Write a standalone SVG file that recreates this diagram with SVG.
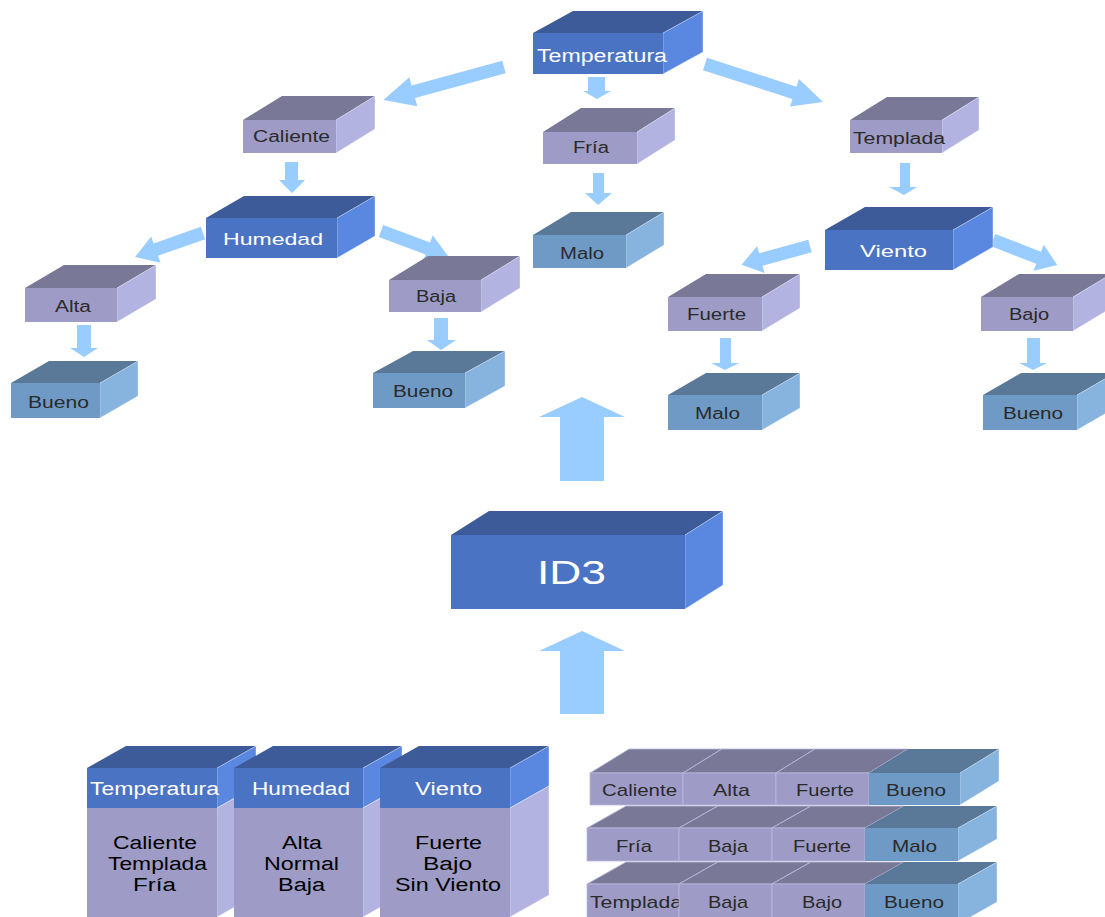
<svg xmlns="http://www.w3.org/2000/svg" width="1105" height="917" viewBox="0 0 1105 917">
  <style>
    text { font-family: "Liberation Sans", Arial, sans-serif; text-anchor: middle; }
    .df { fill: #4b73c3; } .dt { fill: #3d5b98; } .ds { fill: #5a88e1; }
    .lf { fill: #9e9cc6; } .lt { fill: #7a7897; } .ls { fill: #b3b3e1; }
    .sf { fill: #6f9ac6; } .st { fill: #5a7898; } .ss { fill: #87b3df; }
    .edge { stroke: #ffffff; stroke-opacity: 0.45; stroke-width: 0.8; }
    .cell { stroke: #b9b9dc; stroke-width: 0.8; }
    .w { fill: #ffffff; }
    .k { fill: #2a2a2a; }
    .b { fill: #000000; }
    .arrow { fill: #99ccff; }
  </style>

  <rect width="1105" height="917" fill="#ffffff"/>

  <!-- connectors -->
  <g id="connectors" class="arrow">
    <polygon transform="translate(504,67) rotate(164.7)" points="0,-6.5 94,-6.5 94,-15 125,0 94,15 94,6.5 0,6.5"/>
    <polygon transform="translate(705,64) rotate(17.85)" points="0,-6.5 94,-6.5 94,-14.5 124,0 94,14.5 94,6.5 0,6.5"/>
    <polygon points="588,77 605,77 605,91 611,91 597,99 583,91 588,91"/>
    <polygon points="285,162 298,162 298,180 305,180 292,193 279,180 285,180"/>
    <polygon transform="translate(203,233) rotate(160.56)" points="0,-6.5 50,-6.5 50,-14 72,0 50,14 50,6.5 0,6.5"/>
    <polygon transform="translate(381,231) rotate(20.46)" points="0,-6.5 50,-6.5 50,-14 71.5,0 50,14 50,6.5 0,6.5"/>
    <polygon points="77,325 91,325 91,348 98,348 84,357 70,348 77,348"/>
    <polygon points="434,318 448,318 448,340 456,340 441,350 427,340 434,340"/>
    <polygon points="593,173 604,173 604,193 612,193 598,205 585,193 593,193"/>
    <polygon points="900,163 910,163 910,187 917,187 904,195 889,187 900,187"/>
    <polygon transform="translate(810,246) rotate(164.6)" points="0,-6.5 51,-6.5 51,-14 71,0 51,14 51,6.5 0,6.5"/>
    <polygon transform="translate(993,240) rotate(21.3)" points="0,-6.5 49,-6.5 49,-14 69,0 49,14 49,6.5 0,6.5"/>
    <polygon points="720,338 731,338 731,363 739,363 725,370 711,363 720,363"/>
    <polygon points="1027,338 1040,338 1040,363 1047,363 1033,370 1019,363 1027,363"/>
    <polygon points="560,481 604,481 604,417 625,417 582,397 539,417 560,417"/>
    <polygon points="560,714 604,714 604,651 625,651 582,631 539,651 560,651"/>
  </g>

  <!-- decision tree -->
  <g id="n-temperatura">
    <path class="dt" d="M533 33 l40 -22 h130 l-40 22z"/>
    <path class="ds edge" d="M663 33 l40 -22 v41 l-40 22z"/>
    <rect class="df" x="533" y="33" width="130" height="41"/>
    <text class="w" x="602" y="62" font-size="18" textLength="130" lengthAdjust="spacingAndGlyphs">Temperatura</text>
  </g>

  <g id="n-caliente">
    <path class="lt" d="M243 120 l39 -24 h93 l-39 24z"/>
    <path class="ls edge" d="M336 120 l39 -24 v33 l-39 24z"/>
    <rect class="lf" x="243" y="120" width="93" height="33"/>
    <text class="k" x="291.5" y="142" font-size="16" textLength="77" lengthAdjust="spacingAndGlyphs">Caliente</text>
  </g>

  <g id="n-fria">
    <path class="lt" d="M543 132 l38 -24 h94 l-38 24z"/>
    <path class="ls edge" d="M637 132 l38 -24 v32 l-38 24z"/>
    <rect class="lf" x="543" y="132" width="94" height="32"/>
    <text class="k" x="591" y="153" font-size="16" textLength="36" lengthAdjust="spacingAndGlyphs">Fría</text>
  </g>

  <g id="n-templada">
    <path class="lt" d="M850 120 l37 -23 h92 l-37 23z"/>
    <path class="ls edge" d="M942 120 l37 -23 v33 l-37 23z"/>
    <rect class="lf" x="850" y="120" width="92" height="33"/>
    <text class="k" x="899" y="144" font-size="16" textLength="92" lengthAdjust="spacingAndGlyphs">Templada</text>
  </g>

  <g id="n-humedad">
    <path class="dt" d="M206 218 l38 -22 h131 l-38 22z"/>
    <path class="ds edge" d="M337 218 l38 -22 v40 l-38 22z"/>
    <rect class="df" x="206" y="218" width="131" height="40"/>
    <text class="w" x="273" y="245" font-size="17" textLength="100" lengthAdjust="spacingAndGlyphs">Humedad</text>
  </g>

  <g id="n-malo-fria">
    <path class="st" d="M533 235 l38 -23 h93 l-38 23z"/>
    <path class="ss edge" d="M626 235 l38 -23 v33 l-38 23z"/>
    <rect class="sf" x="533" y="235" width="93" height="33"/>
    <text class="k" x="582" y="259" font-size="16" textLength="44" lengthAdjust="spacingAndGlyphs">Malo</text>
  </g>

  <g id="n-viento">
    <path class="dt" d="M825 230 l40 -23 h128 l-40 23z"/>
    <path class="ds edge" d="M953 230 l40 -23 v40 l-40 23z"/>
    <rect class="df" x="825" y="230" width="128" height="40"/>
    <text class="w" x="893.5" y="257" font-size="17" textLength="67" lengthAdjust="spacingAndGlyphs">Viento</text>
  </g>

  <g id="n-alta">
    <path class="lt" d="M25 288 l39 -23 h92 l-39 23z"/>
    <path class="ls edge" d="M117 288 l39 -23 v34 l-39 23z"/>
    <rect class="lf" x="25" y="288" width="92" height="34"/>
    <text class="k" x="73" y="312" font-size="16" textLength="36" lengthAdjust="spacingAndGlyphs">Alta</text>
  </g>

  <g id="n-baja">
    <path class="lt" d="M389 280 l39 -24 h92 l-39 24z"/>
    <path class="ls edge" d="M481 280 l39 -24 v32 l-39 24z"/>
    <rect class="lf" x="389" y="280" width="92" height="32"/>
    <text class="k" x="436" y="302" font-size="16" textLength="40" lengthAdjust="spacingAndGlyphs">Baja</text>
  </g>

  <g id="n-fuerte">
    <path class="lt" d="M668 297 l38 -23 h94 l-38 23z"/>
    <path class="ls edge" d="M762 297 l38 -23 v34 l-38 23z"/>
    <rect class="lf" x="668" y="297" width="94" height="34"/>
    <text class="k" x="716.5" y="320" font-size="16" textLength="59" lengthAdjust="spacingAndGlyphs">Fuerte</text>
  </g>

  <g id="n-bajo">
    <path class="lt" d="M981 297 l38 -23 h92 l-38 23z"/>
    <path class="ls edge" d="M1073 297 l38 -23 v34 l-38 23z"/>
    <rect class="lf" x="981" y="297" width="92" height="34"/>
    <text class="k" x="1029" y="320" font-size="16" textLength="40" lengthAdjust="spacingAndGlyphs">Bajo</text>
  </g>

  <g id="n-bueno-alta">
    <path class="st" d="M11 383 l38 -22 h89 l-38 22z"/>
    <path class="ss edge" d="M100 383 l38 -22 v35 l-38 22z"/>
    <rect class="sf" x="11" y="383" width="89" height="35"/>
    <text class="k" x="58.5" y="408" font-size="16" textLength="61" lengthAdjust="spacingAndGlyphs">Bueno</text>
  </g>

  <g id="n-bueno-baja">
    <path class="st" d="M373 373 l40 -22 h92 l-40 22z"/>
    <path class="ss edge" d="M465 373 l40 -22 v35 l-40 22z"/>
    <rect class="sf" x="373" y="373" width="92" height="35"/>
    <text class="k" x="423" y="397" font-size="16" textLength="60" lengthAdjust="spacingAndGlyphs">Bueno</text>
  </g>

  <g id="n-malo-fuerte">
    <path class="st" d="M668 395 l38 -22 h94 l-38 22z"/>
    <path class="ss edge" d="M762 395 l38 -22 v35 l-38 22z"/>
    <rect class="sf" x="668" y="395" width="94" height="35"/>
    <text class="k" x="717.5" y="419" font-size="16" textLength="45" lengthAdjust="spacingAndGlyphs">Malo</text>
  </g>

  <g id="n-bueno-bajo">
    <path class="st" d="M983 395 l38 -22 h94 l-38 22z"/>
    <path class="ss edge" d="M1077 395 l38 -22 v35 l-38 22z"/>
    <rect class="sf" x="983" y="395" width="94" height="35"/>
    <text class="k" x="1033" y="419" font-size="16" textLength="60" lengthAdjust="spacingAndGlyphs">Bueno</text>
  </g>

  <!-- algorithm block -->
  <g id="n-id3">
    <path class="dt" d="M451 535 l38 -24 h234 l-38 24z"/>
    <path class="ds edge" d="M685 535 l38 -24 v74 l-38 24z"/>
    <rect class="df" x="451" y="535" width="234" height="74"/>
    <text class="w" x="571.5" y="584" font-size="34" textLength="69" lengthAdjust="spacingAndGlyphs">ID3</text>
  </g>

  <!-- attribute columns -->
  <g id="col-temperatura">
    <path class="dt" d="M87 768 l39 -22 h130 l-39 22z"/>
    <path class="ds edge" d="M217 768 l39 -22 v40 l-39 22z"/>
    <path class="ls edge" d="M217 808 l39 -22 v109 l-39 22z"/>
    <rect class="df" x="87" y="768" width="130" height="40"/>
    <rect class="lf" x="87" y="808" width="130" height="109"/>
    <text class="w" x="154.5" y="795" font-size="18" textLength="129" lengthAdjust="spacingAndGlyphs">Temperatura</text>
    <text class="b" x="155" y="849" font-size="18" textLength="84" lengthAdjust="spacingAndGlyphs">Caliente</text>
    <text class="b" x="157.5" y="870" font-size="18" textLength="99" lengthAdjust="spacingAndGlyphs">Templada</text>
    <text class="b" x="154.5" y="891" font-size="18" textLength="43" lengthAdjust="spacingAndGlyphs">Fría</text>
  </g>

  <g id="col-humedad">
    <path class="dt" d="M234 768 l39 -22 h129 l-39 22z"/>
    <path class="ds edge" d="M363 768 l39 -22 v40 l-39 22z"/>
    <path class="ls edge" d="M363 808 l39 -22 v109 l-39 22z"/>
    <rect class="df" x="234" y="768" width="129" height="40"/>
    <rect class="lf" x="234" y="808" width="129" height="109"/>
    <text class="w" x="301" y="795" font-size="18" textLength="98" lengthAdjust="spacingAndGlyphs">Humedad</text>
    <text class="b" x="302" y="849" font-size="18" textLength="40" lengthAdjust="spacingAndGlyphs">Alta</text>
    <text class="b" x="301.5" y="870" font-size="18" textLength="75" lengthAdjust="spacingAndGlyphs">Normal</text>
    <text class="b" x="301.5" y="891" font-size="18" textLength="47" lengthAdjust="spacingAndGlyphs">Baja</text>
  </g>

  <g id="col-viento">
    <path class="dt" d="M380 768 l39 -22 h130 l-39 22z"/>
    <path class="ds edge" d="M510 768 l39 -22 v40 l-39 22z"/>
    <path class="ls edge" d="M510 808 l39 -22 v109 l-39 22z"/>
    <rect class="df" x="380" y="768" width="130" height="40"/>
    <rect class="lf" x="380" y="808" width="130" height="109"/>
    <text class="w" x="448.5" y="795" font-size="18" textLength="67" lengthAdjust="spacingAndGlyphs">Viento</text>
    <text class="b" x="448.5" y="849" font-size="18" textLength="67" lengthAdjust="spacingAndGlyphs">Fuerte</text>
    <text class="b" x="447.5" y="870" font-size="18" textLength="49" lengthAdjust="spacingAndGlyphs">Bajo</text>
    <text class="b" x="448" y="891" font-size="18" textLength="106" lengthAdjust="spacingAndGlyphs">Sin Viento</text>
  </g>

  <!-- training examples -->
  <g id="row-1">
    <g id="r1-c1">
      <path class="lt cell" d="M590 773 l39 -24 h93 l-39 24z"/>
      <path class="ls cell" d="M683 773 l39 -24 v32 l-39 24z"/>
      <rect class="lf cell" x="590" y="773" width="93" height="32"/>
      <text class="k" x="639.5" y="796" font-size="17" textLength="75" lengthAdjust="spacingAndGlyphs">Caliente</text>
    </g>
    <g id="r1-c2">
      <path class="lt cell" d="M683 773 l39 -24 h93 l-39 24z"/>
      <path class="ls cell" d="M776 773 l39 -24 v32 l-39 24z"/>
      <rect class="lf cell" x="683" y="773" width="93" height="32"/>
      <text class="k" x="731.5" y="796" font-size="17" textLength="37" lengthAdjust="spacingAndGlyphs">Alta</text>
    </g>
    <g id="r1-c3">
      <path class="lt cell" d="M776 773 l39 -24 h93 l-39 24z"/>
      <path class="ls cell" d="M869 773 l39 -24 v32 l-39 24z"/>
      <rect class="lf cell" x="776" y="773" width="93" height="32"/>
      <text class="k" x="825" y="796" font-size="17" textLength="58" lengthAdjust="spacingAndGlyphs">Fuerte</text>
    </g>
    <g id="r1-c4">
      <path class="st" d="M869 773 l39 -24 h91 l-39 24z"/>
      <path class="ss edge" d="M960 773 l39 -24 v32 l-39 24z"/>
      <rect class="sf" x="869" y="773" width="91" height="32"/>
      <text class="k" x="916" y="796" font-size="17" textLength="60" lengthAdjust="spacingAndGlyphs">Bueno</text>
    </g>
  </g>

  <g id="row-2">
    <g id="r2-c1">
      <path class="lt cell" d="M587 828 l39 -22 h92 l-39 22z"/>
      <path class="ls cell" d="M679 828 l39 -22 v33 l-39 22z"/>
      <rect class="lf cell" x="587" y="828" width="92" height="33"/>
      <text class="k" x="634" y="852" font-size="17" textLength="36" lengthAdjust="spacingAndGlyphs">Fría</text>
    </g>
    <g id="r2-c2">
      <path class="lt cell" d="M679 828 l39 -22 h93 l-39 22z"/>
      <path class="ls cell" d="M772 828 l39 -22 v33 l-39 22z"/>
      <rect class="lf cell" x="679" y="828" width="93" height="33"/>
      <text class="k" x="728" y="852" font-size="17" textLength="40" lengthAdjust="spacingAndGlyphs">Baja</text>
    </g>
    <g id="r2-c3">
      <path class="lt cell" d="M772 828 l39 -22 h93 l-39 22z"/>
      <path class="ls cell" d="M865 828 l39 -22 v33 l-39 22z"/>
      <rect class="lf cell" x="772" y="828" width="93" height="33"/>
      <text class="k" x="822" y="852" font-size="17" textLength="58" lengthAdjust="spacingAndGlyphs">Fuerte</text>
    </g>
    <g id="r2-c4">
      <path class="st" d="M865 828 l39 -22 h93 l-39 22z"/>
      <path class="ss edge" d="M958 828 l39 -22 v33 l-39 22z"/>
      <rect class="sf" x="865" y="828" width="93" height="33"/>
      <text class="k" x="914.5" y="852" font-size="17" textLength="45" lengthAdjust="spacingAndGlyphs">Malo</text>
    </g>
  </g>

  <g id="row-3">
    <g id="r3-c1">
      <path class="lt cell" d="M587 884 l39 -22 h92 l-39 22z"/>
      <path class="ls cell" d="M679 884 l39 -22 v40 l-39 22z"/>
      <rect class="lf cell" x="587" y="884" width="92" height="40"/>
      <text class="k" x="590" y="908" font-size="17" textLength="92" lengthAdjust="spacingAndGlyphs" style="text-anchor:start">Templada</text>
    </g>
    <g id="r3-c2">
      <path class="lt cell" d="M679 884 l39 -22 h93 l-39 22z"/>
      <path class="ls cell" d="M772 884 l39 -22 v40 l-39 22z"/>
      <rect class="lf cell" x="679" y="884" width="93" height="40"/>
      <text class="k" x="728" y="908" font-size="17" textLength="40" lengthAdjust="spacingAndGlyphs">Baja</text>
    </g>
    <g id="r3-c3">
      <path class="lt cell" d="M772 884 l39 -22 h93 l-39 22z"/>
      <path class="ls cell" d="M865 884 l39 -22 v40 l-39 22z"/>
      <rect class="lf cell" x="772" y="884" width="93" height="40"/>
      <text class="k" x="822" y="908" font-size="17" textLength="40" lengthAdjust="spacingAndGlyphs">Bajo</text>
    </g>
    <g id="r3-c4">
      <path class="st" d="M865 884 l39 -22 h93 l-39 22z"/>
      <path class="ss edge" d="M958 884 l39 -22 v40 l-39 22z"/>
      <rect class="sf" x="865" y="884" width="93" height="40"/>
      <text class="k" x="914" y="908" font-size="17" textLength="60" lengthAdjust="spacingAndGlyphs">Bueno</text>
    </g>
  </g>
</svg>
